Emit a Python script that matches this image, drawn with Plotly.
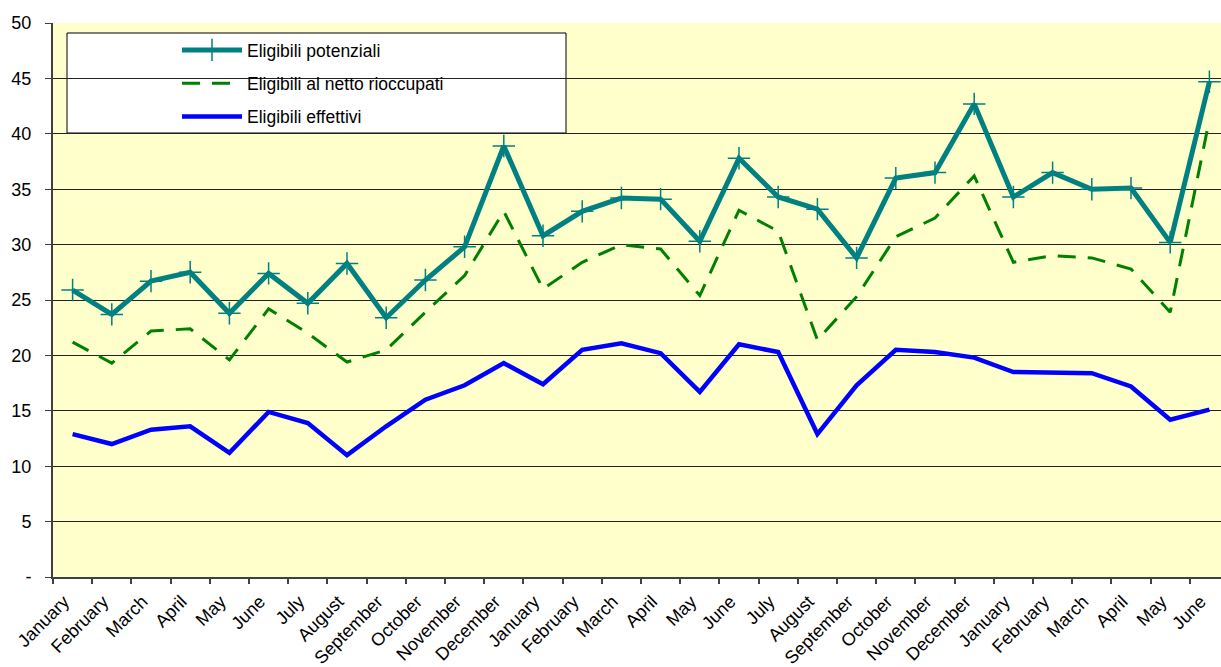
import plotly.graph_objects as go

months = ["January", "February", "March", "April", "May", "June", "July", "August",
          "September", "October", "November", "December",
          "January", "February", "March", "April", "May", "June", "July", "August",
          "September", "October", "November", "December",
          "January", "February", "March", "April", "May", "June"]

potenziali = [25.9, 23.7, 26.7, 27.5, 23.8, 27.4, 24.7, 28.3, 23.4, 26.8, 29.8, 38.9,
              30.8, 33.0, 34.2, 34.1, 30.3, 37.8, 34.3, 33.2, 28.8, 36.0, 36.5, 42.7,
              34.3, 36.5, 35.0, 35.1, 30.2, 44.7]
netto = [21.2, 19.3, 22.2, 22.4, 19.6, 24.2, 22.0, 19.4, 20.5, 23.9, 27.2, 33.0,
         26.0, 28.4, 30.0, 29.6, 25.4, 33.1, 31.2, 21.4, 25.3, 30.7, 32.4, 36.2,
         28.4, 29.0, 28.8, 27.8, 23.9, 41.3]
effettivi = [12.9, 12.0, 13.3, 13.6, 11.2, 14.9, 13.9, 11.0, 13.6, 16.0, 17.3, 19.3,
             17.4, 20.5, 21.1, 20.2, 16.7, 21.0, 20.3, 12.9, 17.3, 20.5, 20.3, 19.8,
             18.5, 18.4, 18.4, 17.2, 14.2, 15.1]

y_ticks = [0, 5, 10, 15, 20, 25, 30, 35, 40, 45, 50]
y_labels = ["-", "5", "10", "15", "20", "25", "30", "35", "40", "45", "50"]

x = list(range(len(months)))

fig = go.Figure()
fig.add_trace(go.Scatter(
    x=x, y=potenziali, name="Eligibili potenziali", mode="lines+markers",
    line=dict(color="#008080", width=5),
    marker=dict(symbol="cross-thin", size=16, line=dict(color="#008080", width=1.5)),
    legendgroup="a"))
fig.add_trace(go.Scatter(
    x=x, y=netto, name="Eligibili al netto rioccupati", mode="lines",
    line=dict(color="#008000", width=3, dash="18px,12px"),
    legendgroup="b"))
fig.add_trace(go.Scatter(
    x=x, y=effettivi, name="Eligibili effettivi", mode="lines",
    line=dict(color="#0000FF", width=4.5),
    legendgroup="c"))

W, H = 1221, 667
ml, mr, mt, mb = 53, 0, 23, 90
pw = W - ml - mr
ph = H - mt - mb
cat_w = 39.2
xmax = -0.5 + pw / cat_w
label_shift = 0.22  # labels sit slightly left of category centres

fig.update_layout(
    width=W, height=H,
    margin=dict(l=ml, r=mr, t=mt, b=mb),
    paper_bgcolor="white", plot_bgcolor="#FFFFCC",
    font=dict(family="Liberation Sans, Arial, sans-serif", color="black"),
    showlegend=True,
    legend=dict(
        x=(177 - ml) / pw, y=1 - (32 - mt) / ph, xanchor="left", yanchor="top",
        bgcolor="rgba(0,0,0,0)", borderwidth=0,
        font=dict(size=17.5), tracegroupgap=7.5, traceorder="grouped",
        itemwidth=60),
    xaxis=dict(
        range=[-0.5, xmax], tickmode="array",
        tickvals=[i - label_shift for i in x], ticktext=months,
        tickangle=-45, tickfont=dict(size=18), ticks="", ticklabelstandoff=5,
        automargin=False,
        showgrid=False, zeroline=False,
        showline=True, linecolor="#404040", linewidth=2,
        minor=dict(tickvals=[i - 0.5 for i in range(len(months) + 1)],
                   ticks="outside", ticklen=5, tickcolor="#404040", tickwidth=1.5,
                   showgrid=False)),
    yaxis=dict(
        range=[0, 50], tickmode="array", tickvals=y_ticks, ticktext=y_labels,
        tickfont=dict(size=18), ticks="outside", ticklen=6, tickcolor="#404040",
        ticklabelstandoff=10, automargin=False,
        showgrid=True, gridcolor="#222222", gridwidth=1, zeroline=False,
        showline=True, linecolor="#404040", linewidth=2),
    shapes=[dict(type="rect", xref="paper", yref="paper",
                 x0=(67 - ml) / pw, x1=(566 - ml) / pw,
                 y0=1 - (133 - mt) / ph, y1=1 - (33 - mt) / ph,
                 fillcolor="white", line=dict(color="black", width=1), layer="between")],
)
fig.write_html("out.html")
